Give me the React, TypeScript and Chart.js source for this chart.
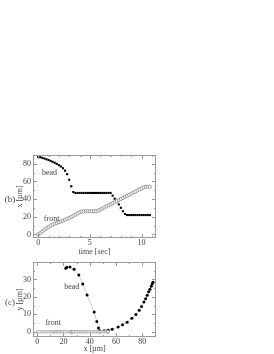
import { useEffect, useRef } from 'react';
import { Chart, registerables } from 'chart.js';
Chart.register(...registerables);

// ---- data: panel (b) ----
const time = [0, 0.2, 0.4, 0.6, 0.8, 1, 1.2, 1.4, 1.6, 1.8, 2, 2.2, 2.4, 2.6, 2.8, 3, 3.2, 3.4, 3.6, 3.8, 4, 4.2, 4.4, 4.6, 4.8, 5, 5.2, 5.4, 5.6, 5.8, 6, 6.2, 6.4, 6.6, 6.8, 7, 7.2, 7.4, 7.6, 7.8, 8, 8.2, 8.4, 8.6, 8.8, 9, 9.2, 9.4, 9.6, 9.8, 10, 10.2, 10.4, 10.6, 10.8];
const beadX = [88, 87.5, 86.8, 86, 85.2, 84.3, 83.3, 82.3, 81.2, 80, 78.5, 77, 75, 72.3, 68.3, 62, 54.6, 48, 47, 47, 47, 47, 47, 47, 47, 47, 47, 47, 47, 47, 47, 47, 47, 47, 47, 47, 44, 40.5, 37.3, 34, 30.2, 26.3, 23.2, 22, 22, 22, 22, 22, 22, 22, 22, 22, 22, 22, 22];
const frontX = [0, 1.5, 3.5, 5.3, 7, 8.5, 10, 11.2, 12.2, 13, 14, 14.8, 15.6, 16.6, 17.6, 18.6, 19.8, 21, 22.4, 23.8, 25, 26, 26.2, 26.3, 26.3, 26.3, 26.3, 26.3, 26.3, 27, 28.1, 29.4, 30.5, 31.8, 33, 34.1, 35.4, 36.6, 37.7, 39, 40.2, 41.3, 42.6, 43.8, 44.9, 46.2, 47.4, 48.5, 49.8, 51, 52.1, 53.4, 54, 54, 54];
const topXTicks = [0, 5, 10];
const topYTicks = [0, 20, 40, 60, 80];

// ---- data: panel (c) ----
const beadPathX = [21.8, 22.5, 25, 28.1, 31.7, 34.7, 38, 43.4, 45.4, 46.7, 47.5, 47.9, 51, 54, 57.1, 61.7, 65, 68.5, 72.1, 75.2, 77.7, 79.5, 81.3, 82.6, 83.8, 84.9, 85.9, 86.9, 87.6, 88.2];
const beadPathY = [36.4, 37, 37.1, 35.8, 32.6, 27.4, 21.1, 11.3, 5.9, 2.1, 0.6, 0, 0.6, 0.8, 1.4, 2.7, 4, 5.5, 7.7, 9.9, 12.4, 14.5, 17, 18.9, 21, 22.9, 24.4, 26.1, 27.4, 28.4];
const botXTicks = [0, 20, 40, 60, 80];
const botYTicks = [0, 10, 20, 30];

const FONT = 'Liberation Serif';
const TXT = '#444';
const FRAME = '#9a9a9a';

const framePlugin = {
  id: 'frame',
  afterDraw(chart: any, _args: any, opts: any) {
    const { ctx, chartArea } = chart;
    const { left, right, top, bottom } = chartArea;
    const xs = chart.scales.x;
    const ys = chart.scales.y;
    ctx.save();
    ctx.strokeStyle = FRAME;
    ctx.lineWidth = 1;
    ctx.strokeRect(Math.round(left) + 0.5, Math.round(top) + 0.5, Math.round(right - left) - 1, Math.round(bottom - top) - 1);
    const tick = (v: number, len: number, axis: 'x' | 'y') => {
      if (axis === 'x') {
        const p = Math.round(xs.getPixelForValue(v)) + 0.5;
        if (p < left || p > right) return;
        ctx.beginPath();
        ctx.moveTo(p, bottom); ctx.lineTo(p, bottom - len);
        ctx.moveTo(p, top); ctx.lineTo(p, top + len);
        ctx.stroke();
      } else {
        const p = Math.round(ys.getPixelForValue(v)) + 0.5;
        if (p < top || p > bottom) return;
        ctx.beginPath();
        ctx.moveTo(left, p); ctx.lineTo(left + len, p);
        ctx.moveTo(right, p); ctx.lineTo(right - len, p);
        ctx.stroke();
      }
    };
    const xStart = Math.ceil(xs.min / opts.xMinor) * opts.xMinor;
    for (let v = xStart; v <= xs.max; v += opts.xMinor) tick(v, 2, 'x');
    const yStart = Math.ceil(ys.min / opts.yMinor) * opts.yMinor;
    for (let v = yStart; v <= ys.max; v += opts.yMinor) tick(v, 2, 'y');
    xs.ticks.forEach((t: any) => tick(t.value, 4, 'x'));
    ys.ticks.forEach((t: any) => tick(t.value, 4, 'y'));

    ctx.fillStyle = TXT;
    ctx.textAlign = 'center';
    ctx.textBaseline = 'middle';
    ctx.font = `8px ${FONT}`;
    (opts.labels || []).forEach((l: any) => {
      ctx.fillText(l.text, xs.getPixelForValue(l.x), ys.getPixelForValue(l.y));
    });
    ctx.font = `9px ${FONT}`;
    ctx.fillText(opts.panel.text, opts.panel.px, opts.panel.py);
    ctx.restore();
  },
};

function axis(min: number, max: number, ticks: number[], title: string, isX: boolean, size: number) {
  return {
    type: 'linear',
    min,
    max,
    afterBuildTicks: (s: any) => { s.ticks = ticks.map((v) => ({ value: v })); },
    afterFit: (s: any) => { if (isX) s.height = size; else s.width = size; },
    grid: { display: false, drawTicks: false },
    border: { display: false },
    ticks: { font: { family: FONT, size: 8 }, color: TXT, padding: isX ? 0 : 2, autoSkip: false, maxRotation: 0 },
    title: { display: true, text: title, font: { family: FONT, size: 8 }, color: TXT, padding: 0 },
  };
}

function useChart(ref: any, config: any) {
  useEffect(() => {
    const chart = new Chart(ref.current, config);
    return () => chart.destroy();
  }, []);
}

export default function App() {
  const topRef = useRef<HTMLCanvasElement>(null);
  const botRef = useRef<HTMLCanvasElement>(null);

  useChart(topRef, {
    type: 'scatter',
    data: {
      datasets: [
        {
          label: 'front',
          data: time.map((t, i) => ({ x: t, y: frontX[i] })),
          pointStyle: 'circle',
          pointRadius: 1.6,
          borderWidth: 0.7,
          borderColor: '#7a7a7a',
          backgroundColor: '#fff',
          showLine: false,
        },
        {
          label: 'bead',
          data: time.map((t, i) => ({ x: t, y: beadX[i] })),
          pointStyle: 'rect',
          pointRadius: 1.5,
          borderWidth: 0,
          borderColor: '#000',
          backgroundColor: '#000',
          showLine: false,
        },
      ],
    },
    options: {
      animation: false,
      responsive: false,
      layout: { padding: { left: 15, right: 118, top: 10, bottom: 0 } },
      scales: {
        x: axis(-0.5, 11.4, topXTicks, 'time [sec]', true, 19),
        y: axis(-4, 90, topYTicks, 'x [µm]', false, 18),
      },
      plugins: {
        legend: { display: false },
        tooltip: { enabled: false },
        frame: {
          xMinor: 1,
          yMinor: 10,
          labels: [
            { text: 'bead', x: 1.1, y: 70 },
            { text: 'front', x: 1.3, y: 18 },
          ],
          panel: { text: '(b)', px: 10, py: 55 },
        },
      },
    },
    plugins: [framePlugin],
  });

  useChart(botRef, {
    type: 'scatter',
    data: {
      datasets: [
        {
          label: 'front',
          data: frontX.map((x) => ({ x, y: 0 })),
          pointStyle: 'circle',
          pointRadius: 1.3,
          borderWidth: 0.6,
          borderColor: '#8a8a8a',
          backgroundColor: '#fff',
          showLine: true,
        },
        {
          label: 'bead',
          data: beadPathX.map((x, i) => ({ x, y: beadPathY[i] })),
          pointStyle: 'circle',
          pointRadius: 1.5,
          borderWidth: 0.6,
          borderColor: '#aaa',
          pointBorderColor: '#000',
          pointBorderWidth: 0,
          pointBackgroundColor: '#000',
          backgroundColor: '#000',
          showLine: true,
        },
      ],
    },
    options: {
      animation: false,
      responsive: false,
      layout: { padding: { left: 15, right: 118, top: 10, bottom: 0 } },
      scales: {
        x: axis(-3.2, 90.5, botXTicks, 'x [µm]', true, 17),
        y: axis(-3, 40, botYTicks, 'y [µm]', false, 18),
      },
      plugins: {
        legend: { display: false },
        tooltip: { enabled: false },
        frame: {
          xMinor: 10,
          yMinor: 5,
          labels: [
            { text: 'bead', x: 26.3, y: 25.6 },
            { text: 'front', x: 12.2, y: 5.1 },
          ],
          panel: { text: '(c)', px: 10, py: 51 },
        },
      },
    },
    plugins: [framePlugin],
  });

  return (
    <div style={{ position: 'absolute', left: 0, top: 0, width: 274, height: 354, background: '#fff' }}>
      <canvas ref={topRef} width={274} height={112} style={{ position: 'absolute', left: 0, top: 145, width: 274, height: 112 }} />
      <canvas ref={botRef} width={274} height={102} style={{ position: 'absolute', left: 0, top: 252, width: 274, height: 102 }} />
    </div>
  );
}
